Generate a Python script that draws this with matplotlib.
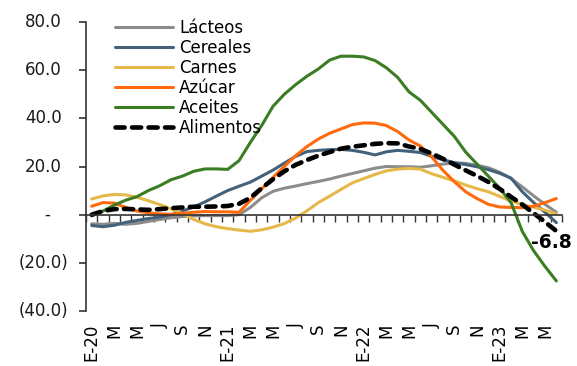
import matplotlib
matplotlib.use("Agg")
import matplotlib.pyplot as plt
import matplotlib.transforms as mtransforms
import numpy as np

""" 1. data (variacion % anual, ene-20 a jun-23) """

anios = [20, 21, 22, 23]
letras = ['E', 'F', 'M', 'A', 'M', 'J', 'J', 'A', 'S', 'O', 'N', 'D']

lacteos = [-3.8, -4.0, -3.6, -4.0, -3.6, -2.8, -2.0, -1.3, -0.8, -0.5, -0.4, -0.4, -0.4, 0.0,
           3.0, 7.0, 9.7, 11.0, 11.9, 12.9, 13.8, 14.8, 16.0, 17.1, 18.2, 19.3, 20.0, 19.9, 19.9,
           19.7, 20.3, 21.0, 21.5, 21.3, 20.5, 19.5, 17.6, 15.0, 11.5, 7.8, 4.3, 1.0]
cereales = [-4.5, -5.0, -4.4, -3.2, -2.4, -1.6, -1.0, -0.1, 1.5, 3.2, 5.3, 7.7, 10.0, 11.8,
            13.5, 16.0, 18.5, 21.4, 24.2, 26.2, 26.7, 27.0, 27.1, 26.7, 25.9, 24.8, 26.1, 26.7, 26.3,
            25.8, 24.2, 22.8, 21.6, 20.8, 19.9, 18.7, 17.2, 15.2, 9.5, 5.0, 1.0, -3.3]
carnes = [6.5, 7.8, 8.4, 8.2, 7.2, 5.8, 4.2, 2.4, 0.5, -2.0, -3.8, -5.0, -5.8, -6.4,
          -6.9, -6.3, -5.2, -3.7, -1.4, 1.6, 5.0, 7.7, 10.5, 13.2, 15.0, 16.7, 18.2, 18.9, 19.2,
          18.9, 17.0, 15.5, 14.0, 12.3, 10.8, 9.5, 7.6, 5.7, 4.2, 3.1, 1.9, 0.3]
azucar = [3.5, 5.0, 4.8, 3.0, 1.5, 0.8, 0.3, 0.2, 0.5, 1.0, 1.3, 1.2, 1.2, 1.0,
          5.9, 10.7, 15.5, 20.0, 24.5, 28.3, 31.4, 33.8, 35.6, 37.4, 38.1, 38.0, 37.0, 34.5, 31.0,
          28.5, 24.0, 18.4, 13.7, 9.5, 6.7, 4.3, 3.2, 3.0, 2.9, 3.5, 5.0, 6.7]
aceites = [-0.5, 1.5, 4.0, 6.0, 7.5, 10.0, 12.0, 14.5, 16.0, 18.0, 19.0, 19.0, 18.8, 22.4,
           30.0, 37.0, 45.0, 50.0, 54.0, 57.5, 60.5, 64.2, 65.8, 65.8, 65.5, 64.0, 61.0, 57.0, 51.0,
           47.5, 42.5, 37.5, 32.5, 26.0, 21.0, 16.0, 11.0, 5.0, -7.0, -15.0, -21.5, -27.5]
alimentos = [0.0, 1.5, 2.3, 2.4, 2.2, 2.0, 2.3, 2.7, 3.0, 3.3, 3.3, 3.4, 3.6, 4.5,
             7.0, 11.0, 14.7, 18.0, 20.7, 22.7, 24.5, 26.0, 27.4, 28.2, 28.8, 29.4, 29.7, 29.6, 28.3,
             27.3, 25.4, 23.2, 20.8, 18.4, 16.1, 13.6, 10.7, 7.4, 4.2, 0.6, -3.0, -6.8]

yticks = [-40, -20, 0, 20, 40, 60, 80]

# month labels: E-20, M, M, J, S, N, E-21 ...
meses = []
for a in anios:
    for m in range(12):
        meses.append(letras[m] + ('-%d' % a if m == 0 else ''))
n = len(alimentos)
meses = meses[:n]
x = np.arange(n)

""" 2. figure """

plt.rcParams['font.family'] = ['DejaVu Sans']
fig = plt.figure(figsize=(5.77, 3.66), dpi=100)
ax = fig.add_axes([86/577, 1-311/366, (562-86)/577, (311-22)/366])

series = [("Lácteos", lacteos, '#8c8c8c'),
          ("Cereales", cereales, '#44617b'),
          ("Carnes", carnes, '#e6b84a'),
          ("Azúcar", azucar, '#ff6a0d'),
          ("Aceites", aceites, '#3b7d23')]
for name, vals, col in series:
    ax.plot(x, vals, color=col, lw=2.2, label=name, solid_capstyle='round')
ax.plot(x, alimentos, color='black', lw=3.3, linestyle=(0, (2.0, 1.6)),
        dash_capstyle='round', label='Alimentos')

ax.set_xlim(-0.5, n - 0.5)
ax.set_ylim(-40, 80)

for s in ['top', 'right']:
    ax.spines[s].set_visible(False)
ax.spines['left'].set_color('#333333')
ax.spines['left'].set_linewidth(1.2)
ax.spines['bottom'].set_position(('data', 0))
ax.spines['bottom'].set_color('#333333')
ax.spines['bottom'].set_linewidth(1.2)

# month boundary ticks on the zero line
ax.set_xticks(np.arange(n + 1) - 0.5)
ax.tick_params(axis='x', direction='out', length=5, width=1, color='#333333', labelbottom=False)

# labels at the bottom
sec = ax.secondary_xaxis('bottom')
sec.spines['bottom'].set_visible(False)
sec.set_xticks(x[::2])
sec.set_xticklabels(meses[::2], rotation=90, fontsize=12, va='top', ha='center')
sec.tick_params(axis='x', length=0, pad=9)

# y labels in accounting style
ax.set_yticks(yticks)
ax.set_yticklabels([])
ax.tick_params(axis='y', direction='out', length=5, width=1.2, color='#333333')
trans = mtransforms.blended_transform_factory(ax.transAxes, ax.transData)
for v in yticks:
    if v > 0:
        txt, off = '%.1f' % v, -24
    elif v < 0:
        txt, off = '(%.1f)' % abs(v), -18
    else:
        txt, off = '-', -36
    ax.annotate(txt, xy=(0, v), xycoords=trans, xytext=(off, 0), textcoords='offset pixels',
                ha='right', va='center', fontsize=12, color='#1a1a1a')

# last value of alimentos
ax.annotate('%.1f' % alimentos[-1], xy=(x[-1], alimentos[-1]), xytext=(-5, -11),
            textcoords='offset pixels', ha='center', va='center', fontsize=13.5,
            fontweight='bold', color='black')

leg = ax.legend(loc='upper left', bbox_to_anchor=(115/577, 1-19/366),
                bbox_transform=fig.transFigure, frameon=False, fontsize=12,
                handlelength=3.5, handletextpad=0.35, labelspacing=0.12,
                borderpad=0, borderaxespad=0)

fig.savefig('out.png', dpi=100)
